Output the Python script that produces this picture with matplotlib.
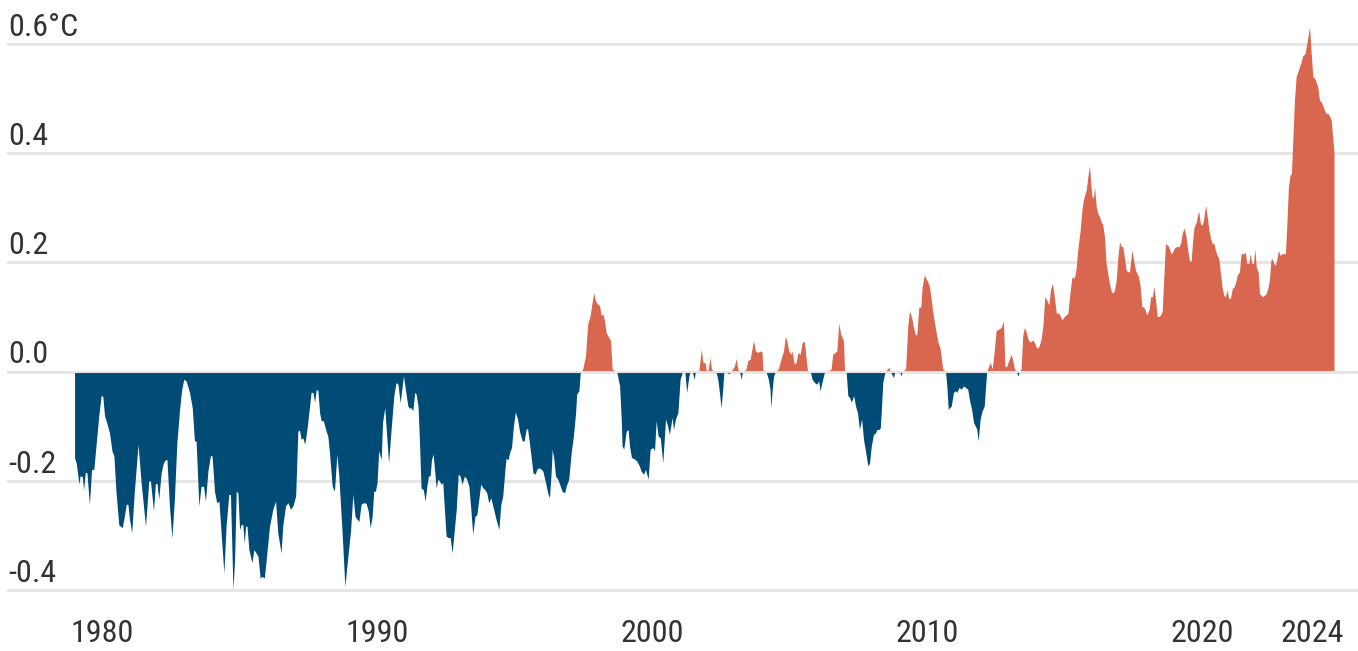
import numpy as np
import matplotlib
matplotlib.use("Agg")
import matplotlib.pyplot as plt
from matplotlib import font_manager

# temperature anomaly (deg C)
years = [
    1979.02, 1979.08, 1979.18, 1979.22, 1979.30, 1979.35, 1979.41, 1979.47, 1979.56, 1979.64,
    1979.72, 1979.81, 1979.90, 1979.99, 1980.05, 1980.11, 1980.17, 1980.29, 1980.38, 1980.45,
    1980.53, 1980.63, 1980.69, 1980.75, 1980.81, 1980.90, 1980.96, 1981.02, 1981.10, 1981.19,
    1981.33, 1981.44, 1981.60, 1981.72, 1981.78, 1981.89, 1981.96, 1982.02, 1982.08, 1982.17,
    1982.25, 1982.33, 1982.38, 1982.47, 1982.56, 1982.65, 1982.74, 1982.84, 1982.91, 1982.99,
    1983.08, 1983.20, 1983.30, 1983.38, 1983.44, 1983.54, 1983.62, 1983.71, 1983.78, 1983.87,
    1983.96, 1984.02, 1984.11, 1984.19, 1984.27, 1984.35, 1984.45, 1984.53, 1984.63, 1984.69,
    1984.78, 1984.84, 1984.90, 1984.96, 1985.02, 1985.08, 1985.14, 1985.19, 1985.24, 1985.29,
    1985.36, 1985.47, 1985.54, 1985.62, 1985.69, 1985.77, 1985.84, 1985.92, 1985.99, 1986.11,
    1986.23, 1986.33, 1986.41, 1986.53, 1986.59, 1986.69, 1986.78, 1986.87, 1986.96, 1987.06,
    1987.14, 1987.20, 1987.26, 1987.32, 1987.39, 1987.47, 1987.54, 1987.62, 1987.69, 1987.75,
    1987.81, 1987.87, 1987.93, 1987.99, 1988.07, 1988.15, 1988.23, 1988.29, 1988.39, 1988.47,
    1988.56, 1988.63, 1988.75, 1988.85, 1988.96, 1989.06, 1989.14, 1989.22, 1989.30, 1989.36,
    1989.44, 1989.53, 1989.62, 1989.70, 1989.77, 1989.84, 1989.90, 1989.96, 1990.02, 1990.08,
    1990.17, 1990.22, 1990.30, 1990.38, 1990.44, 1990.53, 1990.63, 1990.71, 1990.78, 1990.86,
    1990.98, 1991.05, 1991.14, 1991.20, 1991.26, 1991.32, 1991.39, 1991.44, 1991.51, 1991.56,
    1991.62, 1991.70, 1991.77, 1991.83, 1991.89, 1991.95, 1992.00, 1992.06, 1992.11, 1992.17,
    1992.23, 1992.29, 1992.35, 1992.41, 1992.47, 1992.53, 1992.61, 1992.68, 1992.75, 1992.82,
    1992.90, 1992.97, 1993.04, 1993.11, 1993.20, 1993.28, 1993.36, 1993.43, 1993.50, 1993.58,
    1993.65, 1993.72, 1993.79, 1993.87, 1993.94, 1994.01, 1994.08, 1994.16, 1994.23, 1994.35,
    1994.45, 1994.52, 1994.59, 1994.67, 1994.71, 1994.79, 1994.84, 1994.91, 1994.98, 1995.05,
    1995.13, 1995.20, 1995.30, 1995.37, 1995.44, 1995.49, 1995.56, 1995.64, 1995.69, 1995.76,
    1995.83, 1995.90, 1996.00, 1996.05, 1996.15, 1996.23, 1996.29, 1996.35, 1996.39, 1996.45,
    1996.51, 1996.59, 1996.68, 1996.75, 1996.84, 1996.90, 1996.99, 1997.08, 1997.16, 1997.24,
    1997.28, 1997.36, 1997.41, 1997.50, 1997.60, 1997.68, 1997.77, 1997.84, 1997.90, 1997.96,
    1998.04, 1998.11, 1998.17, 1998.23, 1998.29, 1998.35, 1998.44, 1998.51, 1998.57, 1998.67,
    1998.74, 1998.84, 1998.90, 1998.93, 1998.99, 1999.08, 1999.15, 1999.20, 1999.27, 1999.38,
    1999.47, 1999.56, 1999.62, 1999.71, 1999.78, 1999.83, 1999.88, 1999.95, 2000.05, 2000.11,
    2000.17, 2000.24, 2000.32, 2000.41, 2000.51, 2000.59, 2000.65, 2000.75, 2000.80, 2000.87,
    2000.96, 2001.04, 2001.12, 2001.21, 2001.28, 2001.36, 2001.41, 2001.48, 2001.55, 2001.60,
    2001.72, 2001.81, 2001.87, 2001.95, 2001.99, 2002.05, 2002.13, 2002.18, 2002.25, 2002.35,
    2002.41, 2002.47, 2002.53, 2002.59, 2002.63, 2002.71, 2002.81, 2002.90, 2003.02, 2003.08,
    2003.14, 2003.20, 2003.26, 2003.30, 2003.44, 2003.50, 2003.59, 2003.64, 2003.71, 2003.78,
    2003.87, 2003.93, 2004.02, 2004.05, 2004.12, 2004.17, 2004.25, 2004.31, 2004.34, 2004.39,
    2004.44, 2004.51, 2004.61, 2004.71, 2004.80, 2004.87, 2004.92, 2004.99, 2005.07, 2005.11,
    2005.19, 2005.26, 2005.33, 2005.41, 2005.48, 2005.56, 2005.65, 2005.68, 2005.77, 2005.84,
    2005.93, 2006.01, 2006.08, 2006.13, 2006.21, 2006.29, 2006.41, 2006.53, 2006.59, 2006.67,
    2006.74, 2006.81, 2006.88, 2006.98, 2007.02, 2007.08, 2007.14, 2007.20, 2007.27, 2007.35,
    2007.42, 2007.49, 2007.56, 2007.64, 2007.71, 2007.81, 2007.87, 2007.93, 2007.99, 2008.07,
    2008.15, 2008.19, 2008.27, 2008.32, 2008.36, 2008.41, 2008.47, 2008.51, 2008.63, 2008.68,
    2008.80, 2008.85, 2009.02, 2009.07, 2009.12, 2009.24, 2009.32, 2009.38, 2009.47, 2009.54,
    2009.60, 2009.65, 2009.72, 2009.79, 2009.84, 2009.92, 2009.99, 2010.05, 2010.11, 2010.17,
    2010.23, 2010.33, 2010.41, 2010.50, 2010.59, 2010.69, 2010.74, 2010.79, 2010.84, 2010.90,
    2010.98, 2011.05, 2011.10, 2011.18, 2011.26, 2011.35, 2011.42, 2011.50, 2011.56, 2011.64,
    2011.71, 2011.78, 2011.83, 2011.88, 2011.95, 2012.02, 2012.10, 2012.15, 2012.19, 2012.27,
    2012.32, 2012.39, 2012.47, 2012.53, 2012.63, 2012.72, 2012.80, 2012.85, 2012.90, 2012.99,
    2013.08, 2013.14, 2013.20, 2013.26, 2013.33, 2013.38, 2013.44, 2013.50, 2013.56, 2013.63,
    2013.69, 2013.75, 2013.87, 2013.94, 2014.01, 2014.09, 2014.16, 2014.23, 2014.30, 2014.38,
    2014.45, 2014.51, 2014.58, 2014.65, 2014.72, 2014.81, 2014.87, 2014.93, 2015.01, 2015.08,
    2015.14, 2015.20, 2015.29, 2015.35, 2015.39, 2015.44, 2015.50, 2015.59, 2015.66, 2015.72,
    2015.81, 2015.87, 2015.93, 2015.98, 2016.02, 2016.07, 2016.11, 2016.17, 2016.23, 2016.29,
    2016.35, 2016.41, 2016.47, 2016.53, 2016.59, 2016.65, 2016.72, 2016.78, 2016.84, 2016.90,
    2016.96, 2017.02, 2017.08, 2017.14, 2017.20, 2017.26, 2017.32, 2017.38, 2017.47, 2017.53,
    2017.60, 2017.65, 2017.71, 2017.77, 2017.83, 2017.89, 2017.95, 2018.01, 2018.09, 2018.15,
    2018.21, 2018.27, 2018.33, 2018.39, 2018.45, 2018.51, 2018.57, 2018.63, 2018.69, 2018.75,
    2018.81, 2018.88, 2018.93, 2019.01, 2019.08, 2019.18, 2019.24, 2019.30, 2019.37, 2019.44,
    2019.50, 2019.56, 2019.62, 2019.68, 2019.73, 2019.81, 2019.87, 2019.90, 2019.96, 2020.02,
    2020.07, 2020.15, 2020.21, 2020.27, 2020.33, 2020.39, 2020.45, 2020.51, 2020.57, 2020.63,
    2020.69, 2020.75, 2020.81, 2020.87, 2020.93, 2020.99, 2021.05, 2021.12, 2021.18, 2021.24,
    2021.30, 2021.38, 2021.44, 2021.53, 2021.59, 2021.65, 2021.72, 2021.77, 2021.83, 2021.89,
    2021.94, 2021.99, 2022.06, 2022.11, 2022.17, 2022.23, 2022.29, 2022.35, 2022.41, 2022.47,
    2022.52, 2022.57, 2022.63, 2022.69, 2022.74, 2022.80, 2022.86, 2022.93, 2023.01, 2023.05,
    2023.10, 2023.16, 2023.22, 2023.27, 2023.32, 2023.38, 2023.44, 2023.52, 2023.56, 2023.62,
    2023.68, 2023.76, 2023.81, 2023.87, 2023.93, 2023.99, 2024.05, 2024.11, 2024.17, 2024.23,
    2024.29, 2024.35, 2024.41, 2024.47, 2024.53, 2024.59, 2024.65, 2024.72, 2024.78, 2024.82,
]
anomaly = [
    -0.159, -0.168, -0.207, -0.192, -0.193, -0.217, -0.186, -0.186, -0.244, -0.180,
    -0.180, -0.131, -0.082, -0.044, -0.047, -0.082, -0.091, -0.113, -0.146, -0.155,
    -0.223, -0.282, -0.284, -0.287, -0.272, -0.244, -0.244, -0.272, -0.296, -0.223,
    -0.134, -0.204, -0.284, -0.201, -0.201, -0.256, -0.206, -0.206, -0.235, -0.186,
    -0.168, -0.162, -0.162, -0.247, -0.305, -0.235, -0.131, -0.070, -0.036, -0.015,
    -0.018, -0.039, -0.067, -0.128, -0.128, -0.247, -0.211, -0.211, -0.238, -0.183,
    -0.155, -0.155, -0.220, -0.241, -0.238, -0.296, -0.370, -0.284, -0.226, -0.226,
    -0.400, -0.345, -0.220, -0.223, -0.290, -0.281, -0.281, -0.315, -0.284, -0.284,
    -0.327, -0.351, -0.327, -0.333, -0.339, -0.379, -0.376, -0.379, -0.345, -0.284,
    -0.253, -0.238, -0.296, -0.333, -0.284, -0.247, -0.241, -0.253, -0.247, -0.229,
    -0.110, -0.108, -0.125, -0.122, -0.134, -0.107, -0.076, -0.039, -0.039, -0.057,
    -0.033, -0.036, -0.076, -0.091, -0.091, -0.107, -0.119, -0.149, -0.211, -0.220,
    -0.152, -0.192, -0.296, -0.394, -0.339, -0.290, -0.226, -0.266, -0.272, -0.275,
    -0.244, -0.241, -0.242, -0.256, -0.287, -0.266, -0.220, -0.220, -0.204, -0.146,
    -0.162, -0.094, -0.067, -0.125, -0.168, -0.107, -0.045, -0.021, -0.024, -0.058,
    -0.009, -0.033, -0.064, -0.068, -0.067, -0.073, -0.039, -0.042, -0.064, -0.125,
    -0.214, -0.217, -0.238, -0.211, -0.192, -0.192, -0.162, -0.152, -0.180, -0.214,
    -0.198, -0.201, -0.207, -0.204, -0.253, -0.302, -0.305, -0.305, -0.333, -0.296,
    -0.253, -0.189, -0.192, -0.207, -0.192, -0.198, -0.211, -0.253, -0.299, -0.266,
    -0.263, -0.235, -0.207, -0.214, -0.217, -0.223, -0.241, -0.232, -0.247, -0.272,
    -0.290, -0.244, -0.229, -0.180, -0.160, -0.162, -0.149, -0.140, -0.100, -0.075,
    -0.088, -0.110, -0.128, -0.128, -0.107, -0.105, -0.131, -0.165, -0.186, -0.189,
    -0.180, -0.177, -0.180, -0.183, -0.205, -0.224, -0.232, -0.186, -0.143, -0.161,
    -0.192, -0.198, -0.210, -0.220, -0.223, -0.210, -0.198, -0.149, -0.119, -0.076,
    -0.042, -0.036, -0.002, 0.004, 0.028, 0.086, 0.102, 0.126, 0.144, 0.129,
    0.123, 0.120, 0.102, 0.105, 0.093, 0.071, 0.062, 0.056, 0.004, 0.000,
    -0.002, -0.027, -0.088, -0.137, -0.143, -0.110, -0.107, -0.137, -0.158, -0.161,
    -0.165, -0.174, -0.183, -0.189, -0.180, -0.189, -0.198, -0.143, -0.140, -0.146,
    -0.091, -0.119, -0.122, -0.168, -0.088, -0.101, -0.116, -0.085, -0.107, -0.088,
    -0.076, -0.015, -0.002, 0.000, -0.039, -0.009, 0.000, 0.000, -0.015, 0.000,
    0.000, 0.040, 0.016, 0.015, 0.002, 0.000, 0.025, 0.004, 0.000, -0.002,
    -0.015, -0.039, -0.067, -0.033, -0.002, 0.000, -0.005, 0.000, 0.010, 0.023,
    0.004, 0.000, -0.015, -0.002, 0.004, 0.019, 0.022, 0.037, 0.056, 0.037,
    0.034, 0.037, 0.035, 0.002, 0.000, -0.002, -0.015, -0.033, -0.067, -0.033,
    -0.009, 0.000, 0.004, 0.022, 0.037, 0.064, 0.056, 0.037, 0.031, 0.037,
    0.013, 0.016, 0.034, 0.031, 0.053, 0.054, 0.010, 0.000, 0.000, -0.015,
    -0.021, -0.024, -0.018, -0.036, -0.018, -0.002, 0.000, 0.004, 0.031, 0.034,
    0.037, 0.088, 0.068, 0.056, 0.002, -0.002, -0.045, -0.048, -0.057, -0.045,
    -0.064, -0.076, -0.107, -0.088, -0.125, -0.155, -0.174, -0.168, -0.138, -0.116,
    -0.113, -0.107, -0.107, -0.104, -0.070, -0.021, -0.006, 0.000, 0.007, 0.000,
    -0.012, 0.000, 0.000, -0.009, 0.000, 0.004, 0.083, 0.111, 0.096, 0.077,
    0.066, 0.068, 0.117, 0.117, 0.154, 0.176, 0.169, 0.163, 0.154, 0.132,
    0.108, 0.077, 0.055, 0.040, 0.004, 0.000, -0.027, -0.070, -0.067, -0.064,
    -0.039, -0.036, -0.039, -0.030, -0.033, -0.027, -0.030, -0.033, -0.052, -0.070,
    -0.094, -0.101, -0.107, -0.128, -0.088, -0.073, -0.064, -0.027, 0.000, 0.010,
    0.016, 0.004, 0.040, 0.074, 0.077, 0.080, 0.092, 0.010, 0.007, 0.019,
    0.031, 0.019, 0.004, 0.000, -0.009, 0.000, 0.004, 0.065, 0.080, 0.071,
    0.059, 0.053, 0.057, 0.051, 0.042, 0.045, 0.057, 0.081, 0.136, 0.130,
    0.121, 0.149, 0.161, 0.136, 0.106, 0.106, 0.100, 0.094, 0.100, 0.103,
    0.106, 0.136, 0.173, 0.170, 0.173, 0.188, 0.222, 0.259, 0.299, 0.317,
    0.332, 0.357, 0.376, 0.338, 0.320, 0.317, 0.338, 0.302, 0.289, 0.283,
    0.274, 0.268, 0.247, 0.198, 0.179, 0.161, 0.146, 0.143, 0.149, 0.167,
    0.210, 0.237, 0.228, 0.228, 0.207, 0.185, 0.182, 0.182, 0.222, 0.204,
    0.185, 0.179, 0.173, 0.155, 0.118, 0.118, 0.112, 0.103, 0.112, 0.136,
    0.136, 0.155, 0.130, 0.100, 0.100, 0.103, 0.109, 0.173, 0.234, 0.231,
    0.228, 0.216, 0.216, 0.225, 0.228, 0.228, 0.234, 0.253, 0.262, 0.246,
    0.221, 0.203, 0.200, 0.240, 0.264, 0.273, 0.289, 0.292, 0.270, 0.267,
    0.276, 0.304, 0.282, 0.258, 0.243, 0.234, 0.234, 0.221, 0.212, 0.206,
    0.179, 0.154, 0.139, 0.136, 0.149, 0.133, 0.133, 0.151, 0.154, 0.162,
    0.176, 0.182, 0.215, 0.215, 0.218, 0.197, 0.197, 0.215, 0.197, 0.197,
    0.224, 0.191, 0.182, 0.142, 0.139, 0.136, 0.139, 0.142, 0.151, 0.167,
    0.203, 0.206, 0.197, 0.194, 0.206, 0.221, 0.212, 0.215, 0.215, 0.215,
    0.264, 0.337, 0.359, 0.362, 0.423, 0.496, 0.539, 0.551, 0.557, 0.566,
    0.578, 0.581, 0.594, 0.612, 0.630, 0.581, 0.539, 0.537, 0.529, 0.520,
    0.496, 0.493, 0.487, 0.478, 0.472, 0.472, 0.468, 0.459, 0.423, 0.398,
]

x_ticks = [1980, 1990, 2000, 2010, 2020, 2024]
y_ticks = [-0.4, -0.2, 0.0, 0.2, 0.4, 0.6]
y_labels = ["-0.4", "-0.2", "0.0", "0.2", "0.4", "0.6°C"]

warm = "#d9664f"
cool = "#004c77"
grid_col = "#e5e5e5"
text_col = "#333333"

# condensed face if there is one, otherwise plain Roboto
installed = {f.name for f in font_manager.fontManager.ttflist}
family = "Roboto"
for cand in ["Roboto Condensed", "Liberation Sans Narrow", "Roboto"]:
    if cand in installed:
        family = cand
        break
plt.rcParams["font.family"] = family

W, H = 1358, 651
fig = plt.figure(figsize=(W / 100, H / 100), dpi=100)
ax = fig.add_axes([7 / W, 1 - 600 / H, 1351 / W, 600 / H])

# pixel -> data: 27.5 px per year, Jan 1979 at x=74.5; 0.2 deg per 109.2 px
ax.set_xlim(1979 + (7 - 74.5) / 27.5, 1979 + (1358 - 74.5) / 27.5)
ax.set_ylim(-0.4 - 10 / 546, 0.6 + 44 / 546)

x = np.array(years)
y = np.array(anomaly)

for v in y_ticks:
    ax.axhline(v, color=grid_col, lw=2, zorder=0)

ax.fill_between(x, 0, y, where=y >= 0, interpolate=True, color=warm, lw=0, zorder=2)
ax.fill_between(x, 0, y, where=y <= 0, interpolate=True, color=cool, lw=0, zorder=2)
ax.axhline(0, color=grid_col, lw=1.5, zorder=3)

for v, lab in zip(y_ticks, y_labels):
    ax.text(0.0008, v + 0.015, lab, transform=ax.get_yaxis_transform(),
            ha="left", va="baseline", fontsize=23, color=text_col)

ax.set_xticks(x_ticks)
ax.set_xticklabels([str(t) for t in x_ticks])
ax.tick_params(axis="x", length=0, pad=14, labelsize=23, labelcolor=text_col)
ax.set_yticks([])
for s in ax.spines.values():
    s.set_visible(False)
ax.patch.set_alpha(0)

fig.savefig("out.png", dpi=100, facecolor="white")
